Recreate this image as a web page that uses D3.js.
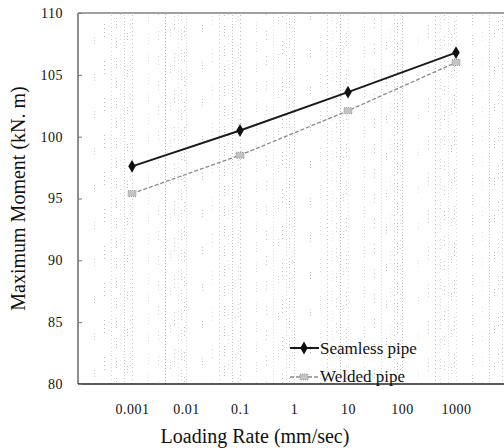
<!DOCTYPE html>
<html>
<head>
<meta charset="utf-8">
<script src="https://cdn.jsdelivr.net/npm/d3@7/dist/d3.min.js"></script>
<style>
  html, body { margin: 0; padding: 0; background: #fff; }
</style>
</head>
<body>
<svg id="chart" width="504" height="448"></svg>
<script>
// Loading rates (mm/sec) and the maximum moment measured for each pipe type
const rates = [0.001, 0.1, 10, 1000];
const seamless = [97.6, 100.5, 103.6, 106.8];
const welded = [95.4, 98.5, 102.1, 106.0];
const xTicks = [0.001, 0.01, 0.1, 1, 10, 100, 1000];
const xTickLabels = ["0.001", "0.01", "0.1", "1", "10", "100", "1000"];
const yTicks = [80, 85, 90, 95, 100, 105, 110];
const seriesNames = ["Seamless pipe", "Welded pipe"];

const serif = "'Liberation Serif'";

const svg = d3.select("#chart");
const plotLeft = 78, plotTop = 13, plotBottom = 384;

const x = d3.scaleLog().domain([1e-4, 1e4]).range([plotLeft, plotLeft + 8 * 54]);
const y = d3.scaleLinear().domain([80, 110]).range([plotBottom, plotTop]);

// Minor log grid: faint, broken dotted verticals at 1..9 within each decade
const gridVals = [];
for (let e = -4; e < 4; e++) {
  for (let m = 1; m <= 9; m++) gridVals.push(m * Math.pow(10, e));
}
const dashPatterns = ["1,2", "1,3,1,3,1,16", "1,2,1,2,1,2,1,10", "1,3", "1,3,1,3,1,3,1,24", "1,2,1,2,1,30"];
const grid = svg.append("g");
gridVals.forEach((v, i) => {
  const gx = Math.round(x(v)) + 0.5;
  if (gx <= plotLeft + 1 || gx > 504) return;
  const op = 0.3 + 0.35 * ((i * 7) % 5) / 4;
  grid.append("line")
    .attr("x1", gx).attr("x2", gx)
    .attr("y1", plotTop).attr("y2", plotBottom)
    .attr("stroke", "#999")
    .attr("stroke-opacity", op)
    .attr("stroke-width", 1)
    .attr("stroke-dasharray", dashPatterns[(i * 5) % dashPatterns.length])
    .attr("stroke-dashoffset", (i * 13) % 37);
});

// Frame: left, bottom and top edges
svg.append("line").attr("x1", plotLeft).attr("x2", plotLeft).attr("y1", plotTop).attr("y2", plotBottom)
  .attr("stroke", "#444").attr("stroke-width", 1.2);
svg.append("line").attr("x1", plotLeft).attr("x2", 504).attr("y1", plotBottom).attr("y2", plotBottom)
  .attr("stroke", "#222").attr("stroke-width", 1.5);
svg.append("line").attr("x1", plotLeft).attr("x2", 504).attr("y1", plotTop).attr("y2", plotTop)
  .attr("stroke", "#444").attr("stroke-width", 1.2);

// Y axis ticks and labels
const yAxis = d3.axisLeft(y).tickValues(yTicks).tickSize(-4).tickPadding(15);
const yg = svg.append("g").attr("transform", `translate(${plotLeft},0)`).call(yAxis);
yg.select(".domain").remove();
yg.selectAll(".tick line").attr("stroke", "#777");
yg.selectAll(".tick text").attr("fill", "#111")
  .style("font-family", serif).style("font-size", "14px").style("letter-spacing", "0.5px");

// X axis labels
const xAxis = d3.axisBottom(x).tickValues(xTicks)
  .tickFormat((d, i) => xTickLabels[i]).tickSize(0).tickPadding(20);
const xg = svg.append("g").attr("transform", `translate(0,${plotBottom})`).call(xAxis);
xg.select(".domain").remove();
xg.selectAll(".tick text").attr("fill", "#111")
  .style("font-family", serif).style("font-size", "14px").style("letter-spacing", "0.5px");

// Axis titles
svg.append("text")
  .attr("transform", `translate(25,${(plotTop + plotBottom) / 2}) rotate(-90)`)
  .attr("text-anchor", "middle").attr("fill", "#111")
  .style("font-family", serif).style("font-size", "20px")
  .text("Maximum Moment (kN. m)");
svg.append("text")
  .attr("x", 255).attr("y", 443)
  .attr("text-anchor", "middle").attr("fill", "#111")
  .style("font-family", serif).style("font-size", "20px")
  .text("Loading Rate (mm/sec)");

const line = d3.line().x(d => x(d[0])).y(d => y(d[1]));

// Welded pipe: gray dashed line with small square markers
const weldedPts = rates.map((r, i) => [r, welded[i]]);
svg.append("path").datum(weldedPts).attr("d", line)
  .attr("fill", "none").attr("stroke", "#8a8a8a").attr("stroke-width", 1.3)
  .attr("stroke-dasharray", "4,2");
svg.selectAll(".wm").data(weldedPts).enter().append("rect")
  .attr("x", d => x(d[0]) - 4).attr("y", d => y(d[1]) - 3)
  .attr("width", 8).attr("height", 6)
  .attr("fill", "#c4c4c4").attr("stroke", "#888").attr("stroke-width", 0.8)
  .attr("stroke-dasharray", "1,1");

// Seamless pipe: solid black line with diamond markers
const seamPts = rates.map((r, i) => [r, seamless[i]]);
svg.append("path").datum(seamPts).attr("d", line)
  .attr("fill", "none").attr("stroke", "#1a1a1a").attr("stroke-width", 2);
const diamond = d3.symbol().type(d3.symbolDiamond).size(48);
svg.selectAll(".sm").data(seamPts).enter().append("path")
  .attr("d", diamond)
  .attr("transform", d => `translate(${x(d[0])},${y(d[1])})`)
  .attr("fill", "#111");

// Legend
const legend = svg.append("g");
legend.append("line").attr("x1", 290).attr("x2", 319).attr("y1", 348).attr("y2", 348)
  .attr("stroke", "#1a1a1a").attr("stroke-width", 2);
legend.append("path").attr("d", diamond).attr("transform", "translate(304,348)").attr("fill", "#111");
legend.append("text").attr("x", 320).attr("y", 354).attr("fill", "#111")
  .style("font-family", serif).style("font-size", "17px").text(seriesNames[0]);
legend.append("line").attr("x1", 290).attr("x2", 319).attr("y1", 377).attr("y2", 377)
  .attr("stroke", "#8a8a8a").attr("stroke-width", 1.3).attr("stroke-dasharray", "4,2");
legend.append("rect").attr("x", 300).attr("y", 374).attr("width", 8).attr("height", 6)
  .attr("fill", "#c4c4c4").attr("stroke", "#888").attr("stroke-width", 0.8).attr("stroke-dasharray", "1,1");
legend.append("text").attr("x", 320).attr("y", 382).attr("fill", "#111")
  .style("font-family", serif).style("font-size", "17px").text(seriesNames[1]);
</script>
</body>
</html>
